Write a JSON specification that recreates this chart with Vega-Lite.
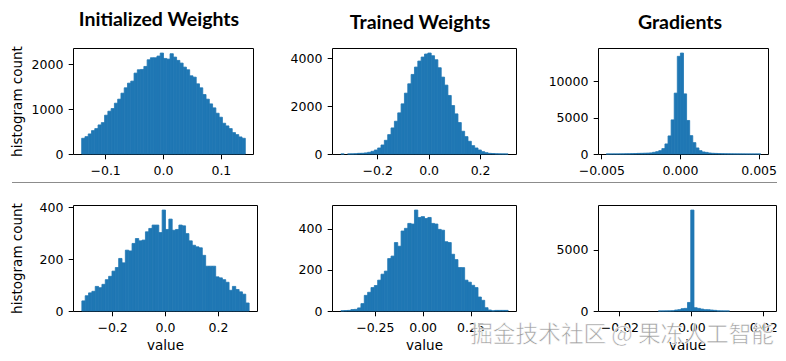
{
  "$schema": "https://vega.github.io/schema/vega-lite/v6.json",
  "background": "white",
  "padding": {"left": 9, "top": 9, "right": 5, "bottom": 5},
  "config": {
    "view": {"stroke": "black", "strokeWidth": 1},
    "axis": {"domain": false, "grid": false, "tickColor": "black", "tickSize": 4.8, "tickWidth": 1, "labelFont": "DejaVu Sans", "labelFontSize": 12.5, "labelColor": "black", "labelPadding": 5.3, "labelFlush": false, "labelOverlap": false, "titleFont": "DejaVu Sans", "titleFontSize": 13.5, "titleFontWeight": "normal", "titleColor": "black"},
    "title": {"font": "Lato", "fontSize": 19.5, "fontWeight": "bold", "color": "black", "anchor": "middle", "frame": "group"}
  },
  "datasets": {
    "p1": [{"lo":-0.1414,"n":351},{"lo":-0.13574,"n":388},{"lo":-0.13009,"n":448},{"lo":-0.12443,"n":522},{"lo":-0.11878,"n":567},{"lo":-0.11312,"n":649},{"lo":-0.10746,"n":701},{"lo":-0.10181,"n":866},{"lo":-0.09615,"n":955},{"lo":-0.0905,"n":1015},{"lo":-0.08484,"n":1134},{"lo":-0.07918,"n":1224},{"lo":-0.07353,"n":1358},{"lo":-0.06787,"n":1478},{"lo":-0.06222,"n":1582},{"lo":-0.05656,"n":1627},{"lo":-0.0509,"n":1806},{"lo":-0.04525,"n":1881},{"lo":-0.03959,"n":1888},{"lo":-0.03394,"n":1955},{"lo":-0.02828,"n":2104},{"lo":-0.02262,"n":2149},{"lo":-0.01697,"n":2149},{"lo":-0.01131,"n":2187},{"lo":-0.00566,"n":2254},{"lo":0,"n":2134},{"lo":0.00566,"n":2119},{"lo":0.01131,"n":2239},{"lo":0.01697,"n":2164},{"lo":0.02262,"n":2090},{"lo":0.02828,"n":2030},{"lo":0.03394,"n":1940},{"lo":0.03959,"n":1881},{"lo":0.04525,"n":1746},{"lo":0.0509,"n":1716},{"lo":0.05656,"n":1567},{"lo":0.06222,"n":1478},{"lo":0.06787,"n":1328},{"lo":0.07353,"n":1224},{"lo":0.07918,"n":1119},{"lo":0.08484,"n":1030},{"lo":0.0905,"n":910},{"lo":0.09615,"n":821},{"lo":0.10181,"n":687},{"lo":0.10746,"n":627},{"lo":0.11312,"n":567},{"lo":0.11878,"n":478},{"lo":0.12443,"n":433},{"lo":0.13009,"n":381},{"lo":0.13574,"n":351}],
    "p2": [{"lo":-0.343,"n":1},{"lo":-0.317,"n":2},{"lo":-0.304,"n":4},{"lo":-0.291,"n":10},{"lo":-0.278,"n":28},{"lo":-0.265,"n":30},{"lo":-0.252,"n":45},{"lo":-0.239,"n":70},{"lo":-0.226,"n":112},{"lo":-0.213,"n":167},{"lo":-0.2,"n":251},{"lo":-0.187,"n":376},{"lo":-0.174,"n":571},{"lo":-0.161,"n":808},{"lo":-0.148,"n":1087},{"lo":-0.135,"n":1366},{"lo":-0.122,"n":1715},{"lo":-0.109,"n":2091},{"lo":-0.096,"n":2537},{"lo":-0.083,"n":2927},{"lo":-0.07,"n":3318},{"lo":-0.057,"n":3624},{"lo":-0.044,"n":3875},{"lo":-0.031,"n":4043},{"lo":-0.018,"n":4168},{"lo":-0.005,"n":4210},{"lo":0.008,"n":4098},{"lo":0.021,"n":3931},{"lo":0.034,"n":3597},{"lo":0.047,"n":3206},{"lo":0.06,"n":2872},{"lo":0.073,"n":2440},{"lo":0.086,"n":2021},{"lo":0.099,"n":1673},{"lo":0.112,"n":1310},{"lo":0.125,"n":948},{"lo":0.138,"n":725},{"lo":0.151,"n":530},{"lo":0.164,"n":349},{"lo":0.177,"n":251},{"lo":0.19,"n":167},{"lo":0.203,"n":98},{"lo":0.216,"n":56},{"lo":0.229,"n":28},{"lo":0.242,"n":20},{"lo":0.255,"n":8},{"lo":0.268,"n":4},{"lo":0.281,"n":2},{"lo":0.294,"n":1}],
    "p3": [{"lo":-0.00472,"n":2},{"lo":-0.004524,"n":3},{"lo":-0.004327,"n":5},{"lo":-0.004131,"n":8},{"lo":-0.003934,"n":10},{"lo":-0.003738,"n":14},{"lo":-0.003541,"n":20},{"lo":-0.003345,"n":30},{"lo":-0.003148,"n":45},{"lo":-0.002952,"n":60},{"lo":-0.002755,"n":85},{"lo":-0.002559,"n":95},{"lo":-0.002362,"n":110},{"lo":-0.002166,"n":125},{"lo":-0.001969,"n":150},{"lo":-0.001773,"n":230},{"lo":-0.001576,"n":320},{"lo":-0.00138,"n":460},{"lo":-0.001183,"n":740},{"lo":-0.000987,"n":1380},{"lo":-0.00079,"n":2480},{"lo":-0.000594,"n":4680},{"lo":-0.000397,"n":8350},{"lo":-0.000201,"n":13400},{"lo":-0.000004,"n":13850},{"lo":0.000193,"n":8250},{"lo":0.000389,"n":4600},{"lo":0.000586,"n":2520},{"lo":0.000782,"n":1560},{"lo":0.000979,"n":830},{"lo":0.001175,"n":460},{"lo":0.001372,"n":280},{"lo":0.001568,"n":220},{"lo":0.001765,"n":140},{"lo":0.001961,"n":100},{"lo":0.002158,"n":80},{"lo":0.002354,"n":55},{"lo":0.002551,"n":40},{"lo":0.002747,"n":30},{"lo":0.002944,"n":22},{"lo":0.00314,"n":16},{"lo":0.003337,"n":12},{"lo":0.003533,"n":9},{"lo":0.00373,"n":7},{"lo":0.003926,"n":5},{"lo":0.004123,"n":4},{"lo":0.004319,"n":3},{"lo":0.004516,"n":2},{"lo":0.004712,"n":1},{"lo":0.004909,"n":1}],
    "p4": [{"lo":-0.3162,"n":39},{"lo":-0.30355,"n":59},{"lo":-0.2909,"n":70},{"lo":-0.27826,"n":76},{"lo":-0.26561,"n":95},{"lo":-0.25296,"n":90},{"lo":-0.24031,"n":103},{"lo":-0.22766,"n":121},{"lo":-0.21502,"n":134},{"lo":-0.20237,"n":154},{"lo":-0.18972,"n":168},{"lo":-0.17707,"n":203},{"lo":-0.16442,"n":186},{"lo":-0.15178,"n":235},{"lo":-0.13913,"n":232},{"lo":-0.12648,"n":261},{"lo":-0.11383,"n":280},{"lo":-0.10118,"n":271},{"lo":-0.08854,"n":274},{"lo":-0.07589,"n":306},{"lo":-0.06324,"n":319},{"lo":-0.05059,"n":332},{"lo":-0.03794,"n":332},{"lo":-0.0253,"n":303},{"lo":-0.01265,"n":390},{"lo":0,"n":315},{"lo":0.01265,"n":355},{"lo":0.0253,"n":312},{"lo":0.03794,"n":315},{"lo":0.05059,"n":332},{"lo":0.06324,"n":329},{"lo":0.07589,"n":299},{"lo":0.08854,"n":271},{"lo":0.10118,"n":254},{"lo":0.11383,"n":248},{"lo":0.12648,"n":244},{"lo":0.13913,"n":215},{"lo":0.15178,"n":173},{"lo":0.16442,"n":173},{"lo":0.17707,"n":173},{"lo":0.18972,"n":132},{"lo":0.20237,"n":128},{"lo":0.21502,"n":121},{"lo":0.22766,"n":111},{"lo":0.24031,"n":80},{"lo":0.25296,"n":95},{"lo":0.26561,"n":83},{"lo":0.27826,"n":74},{"lo":0.2909,"n":65},{"lo":0.30355,"n":31}],
    "p5": [{"lo":-0.43,"n":1},{"lo":-0.41252,"n":2},{"lo":-0.39504,"n":3},{"lo":-0.37756,"n":7},{"lo":-0.36008,"n":8},{"lo":-0.3426,"n":15},{"lo":-0.32512,"n":36},{"lo":-0.30764,"n":76},{"lo":-0.29016,"n":91},{"lo":-0.27268,"n":114},{"lo":-0.2552,"n":124},{"lo":-0.23772,"n":150},{"lo":-0.22024,"n":179},{"lo":-0.20276,"n":194},{"lo":-0.18528,"n":255},{"lo":-0.1678,"n":267},{"lo":-0.15032,"n":333},{"lo":-0.13284,"n":315},{"lo":-0.11536,"n":389},{"lo":-0.09788,"n":402},{"lo":-0.0804,"n":426},{"lo":-0.06292,"n":423},{"lo":-0.04544,"n":491},{"lo":-0.02796,"n":455},{"lo":-0.01048,"n":459},{"lo":0.007,"n":450},{"lo":0.02448,"n":455},{"lo":0.04196,"n":426},{"lo":0.05944,"n":423},{"lo":0.07692,"n":397},{"lo":0.0944,"n":393},{"lo":0.11188,"n":337},{"lo":0.12936,"n":333},{"lo":0.14684,"n":276},{"lo":0.16432,"n":250},{"lo":0.1818,"n":211},{"lo":0.19928,"n":211},{"lo":0.21676,"n":150},{"lo":0.23424,"n":140},{"lo":0.25172,"n":125},{"lo":0.2692,"n":114},{"lo":0.28668,"n":68},{"lo":0.30416,"n":52},{"lo":0.32164,"n":16},{"lo":0.33912,"n":5},{"lo":0.3566,"n":1},{"lo":0.37408,"n":3},{"lo":0.39156,"n":3},{"lo":0.40904,"n":3},{"lo":0.42652,"n":3}],
    "p6": [{"lo":-0.0093,"n":1},{"lo":-0.0084,"n":2},{"lo":-0.0075,"n":4},{"lo":-0.0066,"n":8},{"lo":-0.0057,"n":20},{"lo":-0.0048,"n":80},{"lo":-0.0039,"n":110},{"lo":-0.003,"n":190},{"lo":-0.0021,"n":215},{"lo":-0.0012,"n":700},{"lo":-0.0003,"n":8270},{"lo":0.0006,"n":270},{"lo":0.0015,"n":215},{"lo":0.0024,"n":160},{"lo":0.0033,"n":110},{"lo":0.0042,"n":105},{"lo":0.0051,"n":80},{"lo":0.006,"n":55},{"lo":0.0069,"n":12},{"lo":0.0078,"n":5},{"lo":0.0087,"n":2},{"lo":0.0096,"n":1}]
  },
  "spacing": 0,
  "vconcat": [
    {
      "bounds": "flush",
      "spacing": 79,
      "hconcat": [
        {
          "width": 180, "height": 106,
          "title": {"text": "Initialized Weights", "dx": -4, "offset": 15},
          "data": {"name": "p1"},
          "mark": {"type": "bar", "binSpacing": 0, "color": "#1f77b4", "stroke": "#1f77b4", "strokeWidth": 0.8},
          "encoding": {
            "x": {"field": "lo", "type": "quantitative", "bin": {"binned": true, "step": 0.005656}, "scale": {"domain": [-0.15554, 0.15554], "nice": false, "zero": false}, "axis": {"values": [-0.1, 0, 0.1], "format": ".1f", "title": null}},
            "y": {"field": "n", "type": "quantitative", "scale": {"domain": [0, 2367], "nice": false}, "axis": {"values": [0, 1000, 2000], "format": "d", "title": "histogram count", "titlePadding": 6.8}}
          }
        },
        {
          "bounds": "flush",
          "spacing": 82,
          "hconcat": [
            {
              "width": 184, "height": 106,
              "title": {"text": "Trained Weights", "dx": -4, "offset": 15},
              "data": {"name": "p2"},
              "mark": {"type": "bar", "binSpacing": 0, "color": "#1f77b4", "stroke": "#1f77b4", "strokeWidth": 0.8},
              "encoding": {
                "x": {"field": "lo", "type": "quantitative", "bin": {"binned": true, "step": 0.013}, "scale": {"domain": [-0.3755, 0.3395], "nice": false, "zero": false}, "axis": {"values": [-0.2, 0, 0.2], "format": ".1f", "title": null}},
                "y": {"field": "n", "type": "quantitative", "scale": {"domain": [0, 4420], "nice": false}, "axis": {"values": [0, 2000, 4000], "format": "d", "title": null}}
              }
            },
            {
              "width": 170, "height": 106,
              "title": {"text": "Gradients", "dx": -3, "offset": 15},
              "data": {"name": "p3"},
              "mark": {"type": "bar", "binSpacing": 0, "color": "#1f77b4", "stroke": "#1f77b4", "strokeWidth": 0.8},
              "encoding": {
                "x": {"field": "lo", "type": "quantitative", "bin": {"binned": true, "step": 0.0001965}, "scale": {"domain": [-0.005211, 0.005596], "nice": false, "zero": false}, "axis": {"values": [-0.005, 0, 0.005], "format": ".3f", "title": null}},
                "y": {"field": "n", "type": "quantitative", "scale": {"domain": [0, 14543], "nice": false}, "axis": {"values": [0, 5000, 10000], "format": "d", "title": null}}
              }
            }
          ]
        }
      ]
    },
    {
      "width": 704, "height": 22,
      "view": {"stroke": null},
      "data": {"values": [{"sep": 1}]},
      "mark": {"type": "rule", "color": "#8c8c8c", "strokeWidth": 1},
      "encoding": {
        "x": {"datum": -61, "type": "quantitative", "scale": {"domain": [0, 704]}, "axis": null},
        "x2": {"datum": 704},
        "y": {"datum": 17.5, "type": "quantitative", "scale": {"domain": [0, 22]}, "axis": null}
      }
    },
    {
      "bounds": "flush",
      "spacing": 75,
      "hconcat": [
        {
          "width": 184, "height": 106,
          "data": {"name": "p4"},
          "mark": {"type": "bar", "binSpacing": 0, "color": "#1f77b4", "stroke": "#1f77b4", "strokeWidth": 0.8},
          "encoding": {
            "x": {"field": "lo", "type": "quantitative", "bin": {"binned": true, "step": 0.012648}, "scale": {"domain": [-0.34782, 0.34782], "nice": false, "zero": false}, "axis": {"values": [-0.2, 0, 0.2], "format": ".1f", "title": "value", "titlePadding": 5}},
            "y": {"field": "n", "type": "quantitative", "scale": {"domain": [0, 409.5], "nice": false}, "axis": {"values": [0, 200, 400], "format": "d", "title": "histogram count", "titlePadding": 14.7}}
          }
        },
        {
          "bounds": "flush",
          "spacing": 82,
          "hconcat": [
            {
              "width": 184, "height": 106,
              "data": {"name": "p5"},
              "mark": {"type": "bar", "binSpacing": 0, "color": "#1f77b4", "stroke": "#1f77b4", "strokeWidth": 0.8},
              "encoding": {
                "x": {"field": "lo", "type": "quantitative", "bin": {"binned": true, "step": 0.01748}, "scale": {"domain": [-0.4737, 0.4877], "nice": false, "zero": false}, "axis": {"values": [-0.25, 0, 0.25], "format": ".2f", "title": "value", "titlePadding": 5}},
                "y": {"field": "n", "type": "quantitative", "scale": {"domain": [0, 515.6], "nice": false}, "axis": {"values": [0, 200, 400], "format": "d", "title": null}}
              }
            },
            {
              "width": 178, "height": 106,
              "layer": [
                {
                  "data": {"name": "p6"},
                  "mark": {"type": "bar", "binSpacing": 0, "color": "#1f77b4", "stroke": "#1f77b4", "strokeWidth": 0.8},
                  "encoding": {
                    "x": {"field": "lo", "type": "quantitative", "bin": {"binned": true, "step": 0.0009}, "scale": {"domain": [-0.02595, 0.02355], "nice": false, "zero": false}, "axis": {"values": [-0.02, 0, 0.02], "format": ".2f", "title": "value", "titlePadding": 5}},
                    "y": {"field": "n", "type": "quantitative", "scale": {"domain": [0, 8684], "nice": false}, "axis": {"values": [0, 5000], "format": "d", "title": null}}
                  }
                },
                {
                  "data": {"values": [{"t": "掘金技术社区 @ 果冻人工智能"}]},
                  "mark": {"type": "text", "align": "right", "baseline": "middle", "font": "Noto Sans CJK SC", "fontSize": 22.7, "color": "#a0a0a0", "stroke": "#ffffff", "strokeWidth": 0.6},
                  "encoding": {
                    "text": {"field": "t"},
                    "x": {"datum": 0.023, "type": "quantitative"},
                    "y": {"datum": -1950, "type": "quantitative"}
                  }
                }
              ]
            }
          ]
        }
      ]
    }
  ]
}
